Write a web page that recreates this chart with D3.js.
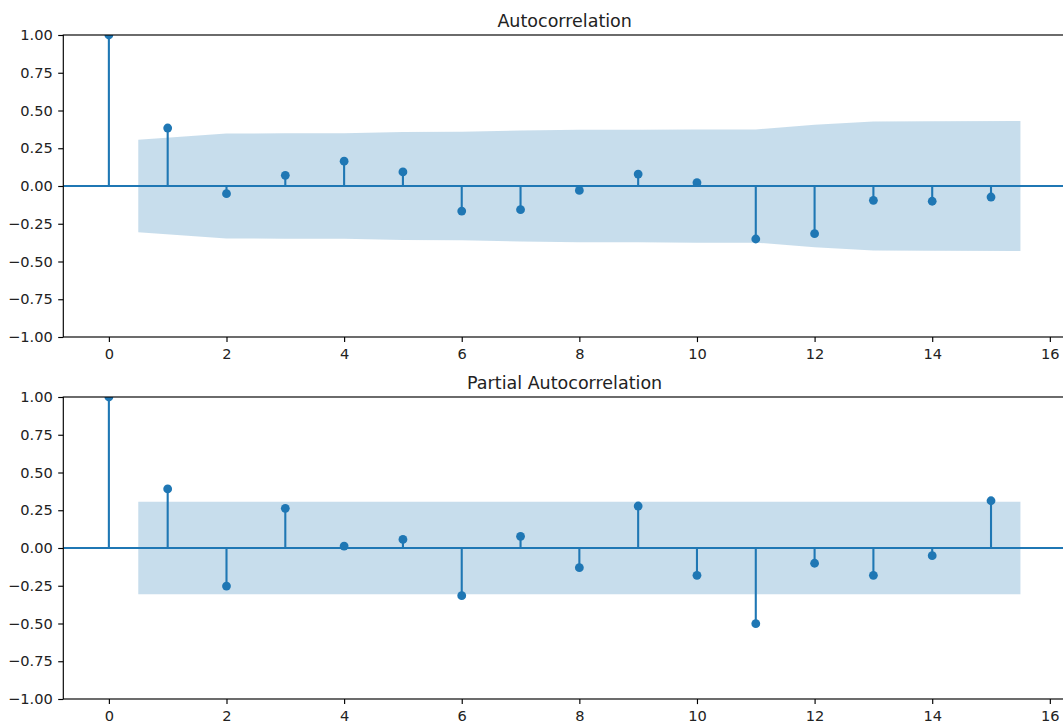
<!DOCTYPE html>
<html>
<head>
<meta charset="utf-8">
<script src="https://cdn.jsdelivr.net/npm/d3@7"></script>
<style>
  html, body { margin: 0; padding: 0; background: #fff; overflow: hidden; }
  svg { display: block; font-family: "DejaVu Sans", sans-serif; }
</style>
</head>
<body>
<svg id="chart" width="1063" height="722"></svg>
<script>
// ---- data ----
const lags = [0, 1, 2, 3, 4, 5, 6, 7, 8, 9, 10, 11, 12, 13, 14, 15];
const acfValues = [1.0, 0.384, -0.051, 0.071, 0.164, 0.093, -0.166, -0.157, -0.029, 0.079, 0.022, -0.351, -0.316, -0.095, -0.101, -0.073];
const pacfValues = [1.0, 0.391, -0.252, 0.263, 0.013, 0.057, -0.316, 0.077, -0.130, 0.278, -0.181, -0.501, -0.101, -0.181, -0.051, 0.313];
// half-width of confidence band for lags 1..15 (band drawn from lag 0.5 to 15.5)
const acfBand = [0.306, 0.348, 0.349, 0.350, 0.357, 0.360, 0.367, 0.373, 0.373, 0.375, 0.375, 0.405, 0.427, 0.429, 0.431];
const pacfBand = [0.306, 0.306, 0.306, 0.306, 0.306, 0.306, 0.306, 0.306, 0.306, 0.306, 0.306, 0.306, 0.306, 0.306, 0.306];
const xTicks = [0, 2, 4, 6, 8, 10, 12, 14, 16];
const yTicks = [-1.0, -0.75, -0.5, -0.25, 0, 0.25, 0.5, 0.75, 1.0];
const titles = ["Autocorrelation", "Partial Autocorrelation"];

const C0 = "#1f77b4";
const svg = d3.select("#chart");
const left = 63.3, right = 1066;
const panels = [
  { top: 35, bottom: 337, values: acfValues, band: acfBand, title: titles[0] },
  { top: 397, bottom: 699, values: pacfValues, band: pacfBand, title: titles[1] }
];

const x = d3.scaleLinear().domain([-0.775, 16.275]).range([left, right]);

panels.forEach((p, i) => {
  const y = d3.scaleLinear().domain([-1, 1]).range([p.bottom, p.top]);
  const g = svg.append("g");
  const clipId = "clip" + i;
  svg.append("defs").append("clipPath").attr("id", clipId)
    .append("rect").attr("x", left).attr("y", p.top)
    .attr("width", right - left).attr("height", p.bottom - p.top);

  const plot = g.append("g").attr("clip-path", `url(#${clipId})`);

  // stems
  plot.selectAll("line.stem").data(lags).enter().append("line")
    .attr("class", "stem")
    .attr("x1", d => x(d)).attr("x2", d => x(d))
    .attr("y1", y(0)).attr("y2", (d, k) => y(p.values[k]))
    .attr("stroke", C0).attr("stroke-width", 2.1);

  // confidence band
  const bandPts = p.band.map((b, k) => ({ lag: k === 0 ? 0.5 : (k === p.band.length - 1 ? 15.5 : k + 1), b }));
  plot.append("path").datum(bandPts)
    .attr("d", d3.area().x(d => x(d.lag)).y0(d => y(-d.b)).y1(d => y(d.b)))
    .attr("fill", C0).attr("fill-opacity", 0.25);

  // zero line
  plot.append("line")
    .attr("x1", left).attr("x2", right)
    .attr("y1", y(0)).attr("y2", y(0))
    .attr("stroke", C0).attr("stroke-width", 2.1);

  // markers
  plot.selectAll("circle").data(lags).enter().append("circle")
    .attr("cx", d => x(d)).attr("cy", (d, k) => y(p.values[k]))
    .attr("r", 4.4).attr("fill", C0);

  // axes
  const xAxis = d3.axisBottom(x).tickValues(xTicks).tickFormat(d3.format("d"))
    .tickSize(5.1).tickPadding(6.4);
  const yAxis = d3.axisLeft(y).tickValues(yTicks).tickFormat(d3.format(".2f"))
    .tickSize(5.1).tickPadding(5.4);

  const gx = g.append("g").attr("transform", `translate(0,${p.bottom})`).call(xAxis);
  const gy = g.append("g").attr("transform", `translate(${left},0)`).call(yAxis);
  [gx, gy].forEach(a => {
    a.select(".domain").remove();
    a.selectAll(".tick line").attr("stroke", "#000").attr("stroke-width", 1.15);
    a.selectAll(".tick text").attr("fill", "#222").attr("font-size", "14.6px")
      .attr("font-family", "DejaVu Sans, sans-serif");
  });

  // frame
  g.append("rect").attr("x", left).attr("y", p.top)
    .attr("width", right - left).attr("height", p.bottom - p.top)
    .attr("fill", "none").attr("stroke", "#000").attr("stroke-width", 1.15);

  // title
  g.append("text").attr("x", (left + right) / 2).attr("y", p.top - 8.5)
    .attr("text-anchor", "middle").attr("font-size", "17.5px").attr("fill", "#222")
    .text(p.title);
});
</script>
</body>
</html>
